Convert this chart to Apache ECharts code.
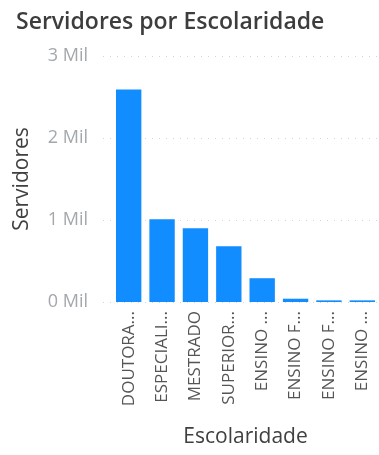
<!DOCTYPE html>
<html>
<head>
<meta charset="utf-8">
<script src="https://cdn.jsdelivr.net/npm/echarts@6/dist/echarts.min.js"></script>
<style>
  html, body { margin: 0; padding: 0; background: #fff; }
  #chart { width: 379px; height: 455px; }
</style>
</head>
<body>
<div id="chart"></div>
<script>
// dados
var categorias = ['DOUTORADO', 'ESPECIALIZAÇÃO', 'MESTRADO', 'SUPERIOR COMPLETO', 'ENSINO MÉDIO',
  'ENSINO FUNDAMENTAL COMPLETO', 'ENSINO FUNDAMENTAL INCOMPLETO', 'ENSINO MÉDIO INCOMPLETO']
var rotulos = ['DOUTORA...', 'ESPECIALI...', 'MESTRADO', 'SUPERIOR...', 'ENSINO ...', 'ENSINO F...', 'ENSINO F...', 'ENSINO ...']
var servidores = [2590, 1010, 900, 680, 290, 40, 20, 20]
var yTicks = [0, 1000, 2000, 3000]

var fonte = '"Open Sans", "Noto Sans", sans-serif'
var myChart = echarts.init(document.getElementById('chart'))
var option = {
  animation: false,
  title: {
    text: 'Servidores por Escolaridade',
    left: 11,
    top: 6,
    textStyle: { fontFamily: fonte, fontSize: 23, fontWeight: 600, color: '#3d3d3d' }
  },
  grid: [
    { left: 103, right: 0, top: 56, bottom: 153 },
    { left: 112, right: 0, top: 56, bottom: 153 }
  ],
  xAxis: [
    { gridIndex: 0, type: 'value', min: 0, max: 1, show: false },
    {
      gridIndex: 1,
      type: 'category',
      data: categorias,
      name: 'Escolaridade',
      nameLocation: 'middle',
      nameGap: 125,
      nameTextStyle: { fontFamily: fonte, fontSize: 21, color: '#404040' },
      axisLine: { show: false },
      axisTick: { show: false },
      axisLabel: {
        rotate: 90,
        margin: 9,
        interval: 0,
        fontFamily: fonte,
        fontSize: 17,
        color: '#555555',
        formatter: function (v, i) { return rotulos[i] }
      }
    }
  ],
  yAxis: [
    {
      gridIndex: 0,
      type: 'value',
      min: yTicks[0],
      max: yTicks[yTicks.length - 1],
      interval: 1000,
      name: 'Servidores',
      nameLocation: 'middle',
      nameGap: 70,
      nameTextStyle: { fontFamily: fonte, fontSize: 21, color: '#404040' },
      axisLine: { show: false },
      axisTick: { show: false },
      axisLabel: {
        margin: 15,
        fontFamily: fonte,
        fontSize: 18,
        color: '#a3a8ad',
        formatter: function (v) { return (v / 1000) + ' Mil' }
      },
      splitLine: { show: true, lineStyle: { color: '#d4d4d4', type: [1, 6], width: 1.2 } }
    },
    { gridIndex: 1, type: 'value', min: 0, max: 3000, show: false }
  ],
  series: [
    {
      name: 'Servidores',
      type: 'bar',
      xAxisIndex: 1,
      yAxisIndex: 1,
      barCategoryGap: '24%',
      itemStyle: { color: '#118DFF' },
      data: servidores
    }
  ]
}
myChart.setOption(option)
</script>
</body>
</html>
